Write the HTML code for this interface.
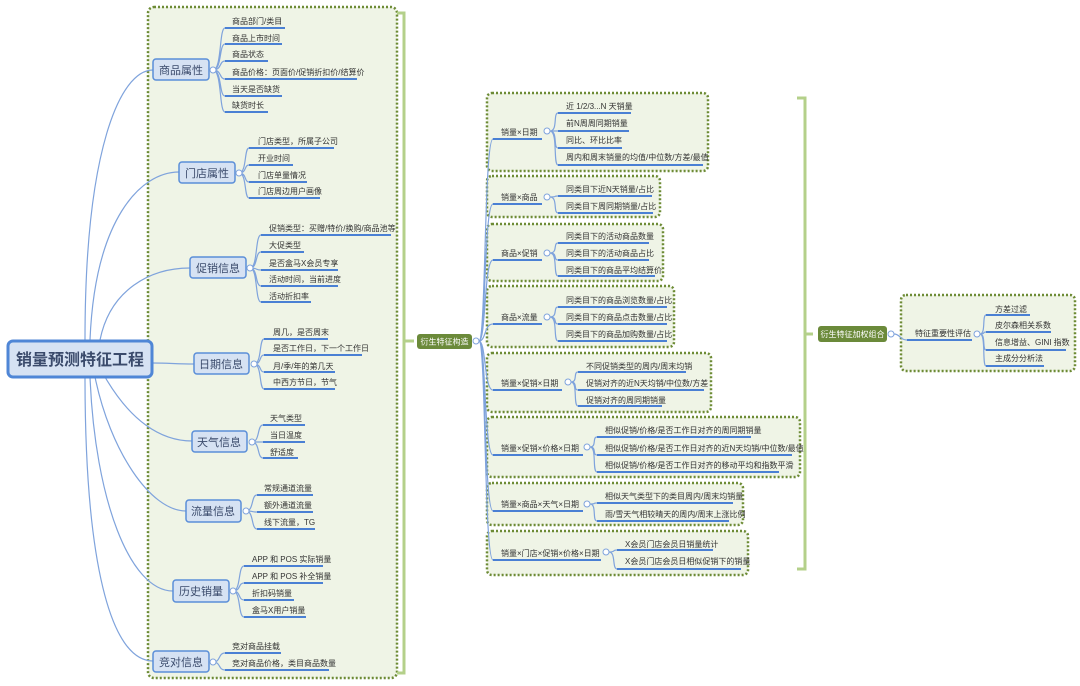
<!DOCTYPE html>
<html><head><meta charset="utf-8"><style>
html,body{margin:0;padding:0;background:#fff;}
svg{display:block;}
text{font-family:"Liberation Sans","Noto Sans CJK SC",sans-serif;fill:#333;}
.l{font-size:8px;}
.c{font-size:11px;fill:#3a4a6b;}
.u{stroke:#4a80d4;stroke-width:2;fill:none;}
.k{stroke:#7fa3dc;stroke-width:1.2;fill:none;}
.box{fill:#eff4e6;stroke:#6d8b35;stroke-width:2.5;stroke-dasharray:2 2;}
.cat{fill:#d6e2f3;stroke:#5a8ed8;stroke-width:1.5;}
.ci{fill:#fff;stroke:#7fa3dc;stroke-width:1;}
.br{stroke:#b4d08a;stroke-width:3;fill:none;}
</style></head><body>
<svg width="1080" height="686" viewBox="0 0 1080 686" xmlns="http://www.w3.org/2000/svg">
<!-- left group box -->
<rect class="box" x="148" y="7" width="249" height="671" rx="6"/>
<path class="br" d="M397,13 H404 V673 H397 M404,341 H414"/>
<!-- root curves -->
<path class="k" d="M85,340 C85,150 120,70 153,70"/>
<path class="k" d="M90,340 C95,220 140,172 179,172"/>
<path class="k" d="M100,340 C110,290 150,268 190,268"/>
<path class="k" d="M152,363 C170,363 175,364 194,364"/>
<path class="k" d="M105,377 C130,420 160,441 192,441"/>
<path class="k" d="M95,377 C110,450 150,511 186,511"/>
<path class="k" d="M90,377 C95,500 130,591 173,591"/>
<path class="k" d="M85,377 C85,560 110,661 153,661"/>
<!-- root -->
<rect x="8" y="341" width="144" height="36" rx="5" fill="#d6e2f3" stroke="#4f86d6" stroke-width="3"/>
<text x="80" y="365" text-anchor="middle" style="font-size:16px;font-weight:bold;fill:#3a4a6b">销量预测特征工程</text>

<!-- 商品属性 -->
<rect class="cat" x="153" y="59" width="56" height="21" rx="3"/><text class="c" x="181" y="74" text-anchor="middle">商品属性</text>
<path class="k" d="M213,70 C222,70 219,28 225,28 M213,70 C222,70 219,44 225,44 M213,70 C222,70 219,61 225,61 M213,70 C222,70 219,79 225,79 M213,70 C222,70 219,96 225,96 M213,70 C222,70 219,112 225,112"/>
<circle class="ci" cx="213" cy="70" r="3"/>
<path class="u" d="M225,28H285 M225,44H282 M225,61H268 M225,79H357 M225,96H282 M225,112H268"/>
<text class="l" x="232" y="24">商品部门/类目</text><text class="l" x="232" y="41">商品上市时间</text><text class="l" x="232" y="57">商品状态</text><text class="l" x="232" y="75">商品价格：页面价/促销折扣价/结算价</text><text class="l" x="232" y="92">当天是否缺货</text><text class="l" x="232" y="108">缺货时长</text>

<!-- 门店属性 -->
<rect class="cat" x="179" y="162" width="56" height="21" rx="3"/><text class="c" x="207" y="177" text-anchor="middle">门店属性</text>
<path class="k" d="M239,173 C247,173 244,148 249,148 M239,173 C247,173 244,165 249,165 M239,173 C247,173 244,182 249,182 M239,173 C247,173 244,198 249,198"/>
<circle class="ci" cx="239" cy="173" r="3"/>
<path class="u" d="M249,148H334 M249,165H293 M249,182H307 M249,198H320"/>
<text class="l" x="258" y="144">门店类型，所属子公司</text><text class="l" x="258" y="161">开业时间</text><text class="l" x="258" y="178">门店单量情况</text><text class="l" x="258" y="194">门店周边用户画像</text>

<!-- 促销信息 -->
<rect class="cat" x="190" y="257" width="56" height="21" rx="3"/><text class="c" x="218" y="272" text-anchor="middle">促销信息</text>
<path class="k" d="M250,268 C258,268 255,235 261,235 M250,268 C258,268 255,252 261,252 M250,268 C258,268 255,270 261,270 M250,268 C258,268 255,286 261,286 M250,268 C258,268 255,302 261,302"/>
<circle class="ci" cx="250" cy="268" r="3"/>
<path class="u" d="M261,235H391 M261,252H304 M261,270H338 M261,286H338 M261,302H311"/>
<text class="l" x="269" y="231">促销类型：买赠/特价/换购/商品池等</text><text class="l" x="269" y="248">大促类型</text><text class="l" x="269" y="266">是否盒马X会员专享</text><text class="l" x="269" y="282">活动时间，当前进度</text><text class="l" x="269" y="299">活动折扣率</text>

<!-- 日期信息 -->
<rect class="cat" x="194" y="353" width="55" height="21" rx="3"/><text class="c" x="221" y="368" text-anchor="middle">日期信息</text>
<path class="k" d="M254,364 C262,364 259,339 264,339 M254,364 C262,364 259,355 264,355 M254,364 C262,364 259,372 264,372 M254,364 C262,364 259,389 264,389"/>
<circle class="ci" cx="254" cy="364" r="3"/>
<path class="u" d="M264,339H328 M264,355H362 M264,372H335 M264,389H335"/>
<text class="l" x="273" y="335">周几，是否周末</text><text class="l" x="273" y="351">是否工作日，下一个工作日</text><text class="l" x="273" y="369">月/季/年的第几天</text><text class="l" x="273" y="385">中西方节日，节气</text>

<!-- 天气信息 -->
<rect class="cat" x="192" y="431" width="55" height="21" rx="3"/><text class="c" x="219" y="446" text-anchor="middle">天气信息</text>
<path class="k" d="M252,442 C260,442 257,425 263,425 M252,442 C260,442 257,442 263,442 M252,442 C260,442 257,458 263,458"/>
<circle class="ci" cx="252" cy="442" r="3"/>
<path class="u" d="M263,425H305 M263,442H305 M263,458H298"/>
<text class="l" x="270" y="421">天气类型</text><text class="l" x="270" y="438">当日温度</text><text class="l" x="270" y="455">舒适度</text>

<!-- 流量信息 -->
<rect class="cat" x="186" y="500" width="55" height="22" rx="3"/><text class="c" x="213" y="515" text-anchor="middle">流量信息</text>
<path class="k" d="M246,511 C254,511 251,495 257,495 M246,511 C254,511 251,512 257,512 M246,511 C254,511 251,529 257,529"/>
<circle class="ci" cx="246" cy="511" r="3"/>
<path class="u" d="M257,495H313 M257,512H313 M257,529H315"/>
<text class="l" x="264" y="491">常规通道流量</text><text class="l" x="264" y="508">额外通道流量</text><text class="l" x="264" y="525">线下流量，TG</text>

<!-- 历史销量 -->
<rect class="cat" x="173" y="580" width="56" height="22" rx="3"/><text class="c" x="201" y="595" text-anchor="middle">历史销量</text>
<path class="k" d="M233,591 C241,591 238,566 244,566 M233,591 C241,591 238,583 244,583 M233,591 C241,591 238,600 244,600 M233,591 C241,591 238,617 244,617"/>
<circle class="ci" cx="233" cy="591" r="3"/>
<path class="u" d="M244,566H323 M244,583H323 M244,600H294 M244,617H306"/>
<text class="l" x="252" y="562">APP 和 POS 实际销量</text><text class="l" x="252" y="579">APP 和 POS 补全销量</text><text class="l" x="252" y="596">折扣码销量</text><text class="l" x="252" y="613">盒马X用户销量</text>

<!-- 竞对信息 -->
<rect class="cat" x="153" y="651" width="56" height="21" rx="3"/><text class="c" x="181" y="666" text-anchor="middle">竞对信息</text>
<path class="k" d="M213,662 C221,662 218,653 225,653 M213,662 C221,662 218,670 225,670"/>
<circle class="ci" cx="213" cy="662" r="3"/>
<path class="u" d="M225,653H281 M225,670H329"/>
<text class="l" x="232" y="649">竞对商品挂载</text><text class="l" x="232" y="666">竞对商品价格，类目商品数量</text>

<!-- middle node -->
<rect x="417" y="334" width="55" height="15" rx="3" fill="#6b8a3a"/>
<text x="444.5" y="344.5" text-anchor="middle" style="font-size:8px;fill:#fff">衍生特征构造</text>
<circle class="ci" cx="476" cy="341" r="3"/>

<!-- middle group boxes -->
<rect class="box" x="487" y="93" width="221" height="78" rx="5"/>
<rect class="box" x="487" y="176" width="173" height="41" rx="5"/>
<rect class="box" x="487" y="224" width="176" height="57" rx="5"/>
<rect class="box" x="487" y="286" width="187" height="61" rx="5"/>
<rect class="box" x="487" y="353" width="224" height="59" rx="5"/>
<rect class="box" x="487" y="417" width="313" height="60" rx="5"/>
<rect class="box" x="487" y="483" width="256" height="42" rx="5"/>
<rect class="box" x="487" y="531" width="261" height="44" rx="5"/>

<!-- trunk -->
<path class="k" d="M479,341 C486,341 484,139 493,139 M479,341 C486,341 484,204 493,204 M479,341 C486,341 484,260 493,260 M479,341 C486,341 484,324 493,324 M479,341 C486,341 484,390 493,390 M479,341 C486,341 484,455 493,455 M479,341 C486,341 484,511 493,511 M479,341 C486,341 484,560 493,560"/>

<!-- G1 -->
<path class="u" d="M493,139H542"/><text class="l" x="501" y="135">销量×日期</text>
<path class="k" d="M550,131 C558,131 553,113 558,113 M550,131 C558,131 553,131 558,131 M550,131 C558,131 553,148 558,148 M550,131 C558,131 553,165 558,165"/>
<circle class="ci" cx="547" cy="131" r="3"/>
<path class="u" d="M558,113H631 M558,131H629 M558,148H622 M558,165H703"/>
<text class="l" x="566" y="109">近 1/2/3...N 天销量</text><text class="l" x="566" y="126">前N周周同期销量</text><text class="l" x="566" y="143">同比、环比比率</text><text class="l" x="566" y="160">周内和周末销量的均值/中位数/方差/最值</text>
<!-- G2 -->
<path class="u" d="M493,204H542"/><text class="l" x="501" y="200">销量×商品</text>
<path class="k" d="M550,197 C558,197 553,196 558,196 M550,197 C558,197 553,213 558,213"/>
<circle class="ci" cx="547" cy="197" r="3"/>
<path class="u" d="M558,196H652 M558,213H653"/>
<text class="l" x="566" y="192">同类目下近N天销量/占比</text><text class="l" x="566" y="209">同类目下周同期销量/占比</text>
<!-- G3 -->
<path class="u" d="M493,260H542"/><text class="l" x="501" y="256">商品×促销</text>
<path class="k" d="M550,253 C558,253 553,243 558,243 M550,253 C558,253 553,260 558,260 M550,253 C558,253 553,276 558,276"/>
<circle class="ci" cx="547" cy="253" r="3"/>
<path class="u" d="M558,243H649 M558,260H649 M558,276H655"/>
<text class="l" x="566" y="239">同类目下的活动商品数量</text><text class="l" x="566" y="256">同类目下的活动商品占比</text><text class="l" x="566" y="273">同类目下的商品平均结算价</text>
<!-- G4 -->
<path class="u" d="M493,324H542"/><text class="l" x="501" y="320">商品×流量</text>
<path class="k" d="M550,317 C558,317 553,307 558,307 M550,317 C558,317 553,324 558,324 M550,317 C558,317 553,341 558,341"/>
<circle class="ci" cx="547" cy="317" r="3"/>
<path class="u" d="M558,307H667 M558,324H667 M558,341H667"/>
<text class="l" x="566" y="303">同类目下的商品浏览数量/占比</text><text class="l" x="566" y="320">同类目下的商品点击数量/占比</text><text class="l" x="566" y="337">同类目下的商品加购数量/占比</text>
<!-- G5 -->
<path class="u" d="M493,390H562"/><text class="l" x="501" y="386">销量×促销×日期</text>
<path class="k" d="M571,382 C578,382 573,372 578,372 M571,382 C578,382 573,390 578,390 M571,382 C578,382 573,406 578,406"/>
<circle class="ci" cx="568" cy="382" r="3"/>
<path class="u" d="M578,372H686 M578,390H704 M578,406H662"/>
<text class="l" x="586" y="369">不同促销类型的周内/周末均销</text><text class="l" x="586" y="386">促销对齐的近N天均销/中位数/方差</text><text class="l" x="586" y="403">促销对齐的周同期销量</text>
<!-- G6 -->
<path class="u" d="M493,455H583"/><text class="l" x="501" y="451">销量×促销×价格×日期</text>
<path class="k" d="M590,447 C597,447 592,437 597,437 M590,447 C597,447 592,455 597,455 M590,447 C597,447 592,472 597,472"/>
<circle class="ci" cx="587" cy="447" r="3"/>
<path class="u" d="M597,437H751 M597,455H792 M597,472H779"/>
<text class="l" x="605" y="433">相似促销/价格/是否工作日对齐的周同期销量</text><text class="l" x="605" y="451">相似促销/价格/是否工作日对齐的近N天均销/中位数/最值</text><text class="l" x="605" y="468">相似促销/价格/是否工作日对齐的移动平均和指数平滑</text>
<!-- G7 -->
<path class="u" d="M493,511H583"/><text class="l" x="501" y="507">销量×商品×天气×日期</text>
<path class="k" d="M590,504 C597,504 592,503 597,503 M590,504 C597,504 592,521 597,521"/>
<circle class="ci" cx="587" cy="504" r="3"/>
<path class="u" d="M597,503H733 M597,521H729"/>
<text class="l" x="605" y="499">相似天气类型下的类目周内/周末均销量</text><text class="l" x="605" y="517">雨/雪天气相较晴天的周内/周末上涨比例</text>
<!-- G8 -->
<path class="u" d="M493,560H601"/><text class="l" x="501" y="556">销量×门店×促销×价格×日期</text>
<path class="k" d="M609,552 C616,552 612,550 617,550 M609,552 C616,552 612,569 617,569"/>
<circle class="ci" cx="606" cy="552" r="3"/>
<path class="u" d="M617,550H713 M617,569H741"/>
<text class="l" x="625" y="547">X会员门店会员日销量统计</text><text class="l" x="625" y="564">X会员门店会员日相似促销下的销量</text>

<!-- right bracket -->
<path class="br" d="M797,98 H805 V569 H797 M805,334 H813"/>
<rect x="818" y="326" width="69" height="16" rx="3" fill="#6b8a3a"/>
<text x="852.5" y="337" text-anchor="middle" style="font-size:8px;fill:#fff">衍生特征加权组合</text>
<circle class="ci" cx="891" cy="334" r="3"/>
<rect class="box" x="901" y="295" width="174" height="76" rx="5"/>
<path class="k" d="M894,334 C900,334 900,340 907,340"/>
<path class="u" d="M907,340H972"/><text class="l" x="915" y="336">特征重要性评估</text>
<path class="k" d="M980,334 C986,334 982,315 986,315 M980,334 C986,334 982,332 986,332 M980,334 C986,334 982,350 986,350 M980,334 C986,334 982,366 986,366"/>
<circle class="ci" cx="977" cy="334" r="3"/>
<path class="u" d="M986,315H1030 M986,332H1051 M986,350H1066 M986,366H1044"/>
<text class="l" x="995" y="312">方差过滤</text><text class="l" x="995" y="328">皮尔森相关系数</text><text class="l" x="995" y="345">信息增益、GINI 指数</text><text class="l" x="995" y="361">主成分分析法</text>
</svg>
</body></html>
